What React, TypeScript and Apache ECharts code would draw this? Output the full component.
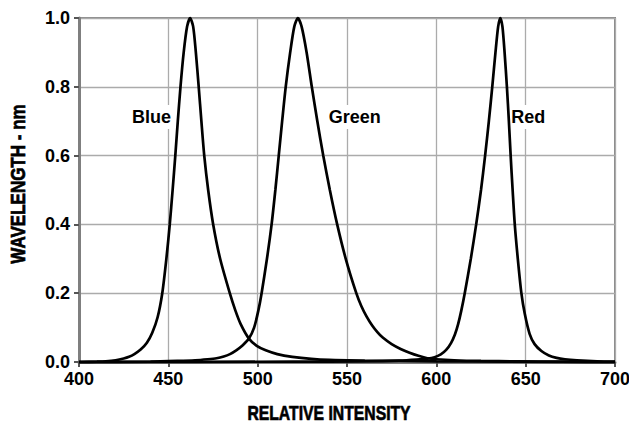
import React, { useEffect, useRef } from "react";
import * as echarts from "echarts";

const FONT = '"Liberation Sans", Arial, sans-serif';

const xTicks = [400, 450, 500, 550, 600, 650, 700];
const yTicks = [0, 0.2, 0.4, 0.6, 0.8, 1.0];

const blue: [number, number][] = [
  [400, 0], [410, 0.001], [415, 0.002], [420.5, 0.005], [425, 0.01], [428, 0.015], [431, 0.023],
  [434.5, 0.036], [438, 0.056], [441, 0.085], [444, 0.13], [446.6, 0.2], [448.9, 0.3],
  [450.8, 0.4], [452.4, 0.5], [453.9, 0.6], [455.3, 0.7], [456.8, 0.8], [458.6, 0.9],
  [460.5, 0.975], [462.2, 1.0], [463.9, 0.975], [465.4, 0.9], [467.0, 0.8], [468.5, 0.7],
  [470.1, 0.6], [472.3, 0.5], [475.1, 0.4], [479.0, 0.3], [484.4, 0.2], [487.5, 0.15],
  [490.5, 0.11], [495.1, 0.068], [499.5, 0.047], [504.5, 0.034], [511, 0.023], [519.4, 0.015],
  [530, 0.009], [540, 0.006], [560, 0.004], [580, 0.003], [600, 0.002], [640, 0.001], [700, 0],
];

const green: [number, number][] = [
  [400, 0], [440, 0.001], [455, 0.003], [465, 0.005], [472, 0.008], [477, 0.011], [481, 0.016],
  [484.5, 0.023], [488, 0.034], [491.5, 0.048], [495.1, 0.068], [498, 0.1], [500.4, 0.15],
  [502.2, 0.2], [505.2, 0.3], [507.8, 0.4], [509.9, 0.5], [511.8, 0.6], [513.7, 0.7],
  [515.7, 0.8], [518.2, 0.9], [520.5, 0.975], [522.5, 1.0], [524.6, 0.975], [527.4, 0.9],
  [530.3, 0.8], [533.4, 0.7], [536.7, 0.6], [540.4, 0.5], [544.5, 0.4], [549.3, 0.3],
  [555.2, 0.2], [558, 0.163], [561, 0.132], [564, 0.107], [567, 0.087], [570, 0.071],
  [575, 0.052], [580, 0.038], [585, 0.027], [590, 0.018], [595, 0.011], [600, 0.008],
  [610, 0.005], [625, 0.003], [645, 0.002], [670, 0.001], [700, 0],
];

const red: [number, number][] = [
  [400, 0], [520, 0.001], [560, 0.002], [579, 0.004], [589, 0.007], [595, 0.01], [599, 0.014],
  [602.5, 0.022], [605.5, 0.035], [608.2, 0.055], [610.4, 0.08], [612.2, 0.11], [614.0, 0.15],
  [615.9, 0.2], [619.3, 0.3], [622.3, 0.4], [625.0, 0.5], [627.3, 0.6], [629.4, 0.7],
  [631.3, 0.8], [633.1, 0.9], [634.6, 0.975], [635.8, 1.0], [637.0, 0.975], [638.2, 0.9],
  [639.5, 0.8], [640.6, 0.7], [641.6, 0.6], [642.7, 0.5], [643.9, 0.4], [645.6, 0.3],
  [647.6, 0.2], [649.5, 0.14], [652.2, 0.082], [655, 0.052], [658.8, 0.032], [663, 0.019],
  [667.3, 0.012], [672, 0.008], [678.7, 0.005], [690, 0.002], [700, 0.001],
];

const curveLabelNames = ["Blue", "Green", "Red"];
const curveLabelX = [440.6, 554.4, 651.5];
const curveLabelY = [0.712, 0.712, 0.712];

const xTitle = "RELATIVE INTENSITY";
const yTitle = "WAVELENGTH - nm";

export default function App() {
  const ref = useRef<HTMLDivElement>(null);
  useEffect(() => {
    if (!ref.current) return;
    const chart = echarts.init(ref.current, undefined, { renderer: "svg" });
    const lineSeries = (name: string, data: [number, number][]) => ({
      name,
      type: "line",
      data,
      showSymbol: false,
      smooth: 0.25,
      clip: false,
      z: 4,
      lineStyle: { color: "#000", width: 2.7 },
    });
    chart.setOption({
      animation: false,
      backgroundColor: "#fff",
      grid: {
        left: 79,
        top: 18,
        right: 14,
        bottom: 67,
        containLabel: false,
        outerBoundsMode: "none",
        show: true,
        borderColor: "#8a8a8a",
        borderWidth: 2,
      },
      xAxis: {
        type: "value",
        min: xTicks[0],
        max: xTicks[xTicks.length - 1],
        interval: 50,
        axisLine: { show: true, lineStyle: { color: "#7f7f7f", width: 3 } },
        axisTick: { show: true, length: 5, lineStyle: { color: "#555", width: 2 } },
        axisLabel: {
          margin: 8,
          color: "#000",
          fontFamily: FONT,
          fontWeight: "bold",
          fontSize: 18,
          showMinLabel: true,
          showMaxLabel: true,
        },
        splitLine: { show: true, lineStyle: { color: "#ababab", width: 1.3 } },
      },
      yAxis: {
        type: "value",
        min: yTicks[0],
        max: yTicks[yTicks.length - 1],
        interval: 0.2,
        axisLine: { show: true, lineStyle: { color: "#7f7f7f", width: 3 } },
        axisTick: { show: true, length: 5, lineStyle: { color: "#555", width: 2 } },
        axisLabel: {
          margin: 9,
          color: "#000",
          fontFamily: FONT,
          fontWeight: "bold",
          fontSize: 18,
          formatter: (v: number) => v.toFixed(1),
        },
        splitLine: { show: true, lineStyle: { color: "#ababab", width: 1.3 } },
      },
      series: [
        lineSeries("Blue", blue),
        lineSeries("Green", green),
        lineSeries("Red", red),
      ],
    });

    const labelGraphics = curveLabelNames.map((name, i) => {
      const [px, py] = chart.convertToPixel({ gridIndex: 0 }, [curveLabelX[i], curveLabelY[i]]) as number[];
      return {
        type: "text",
        x: px,
        y: py,
        z: 1,
        silent: true,
        style: {
          text: name,
          fill: "#000",
          font: `bold 18px ${FONT}`,
          align: "center",
          verticalAlign: "middle",
          backgroundColor: "#fff",
          padding: [3, 1],
        },
      };
    });

    chart.setOption({
      graphic: [
        ...labelGraphics,
        {
          type: "text",
          x: 329,
          y: 413,
          scaleX: 0.75,
          silent: true,
          style: {
            text: xTitle,
            fill: "#000",
            stroke: "#000",
            lineWidth: 0.7,
            font: `bold 21px ${FONT}`,
            align: "center",
            verticalAlign: "middle",
          },
        },
        {
          type: "text",
          x: 17.5,
          y: 184,
          rotation: Math.PI / 2,
          scaleX: 0.81,
          silent: true,
          style: {
            text: yTitle,
            fill: "#000",
            stroke: "#000",
            lineWidth: 0.7,
            font: `bold 21px ${FONT}`,
            align: "center",
            verticalAlign: "middle",
          },
        },
      ],
    });
    return () => chart.dispose();
  }, []);
  return (
    <div
      ref={ref}
      style={{ position: "fixed", left: 0, top: 0, width: 629, height: 429, background: "#fff" }}
    />
  );
}
